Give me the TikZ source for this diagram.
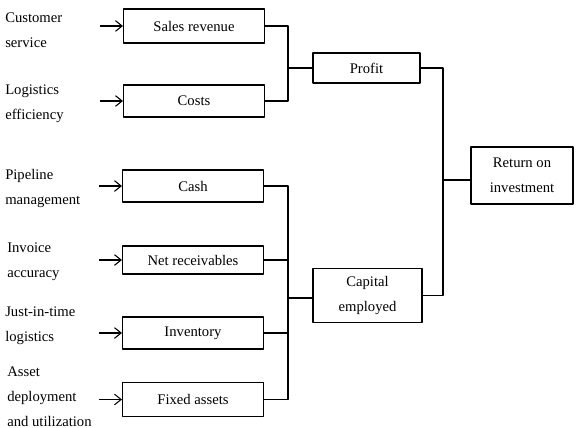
\documentclass[tikz,border=0pt]{standalone}
\usepackage{fontspec}
\setmainfont{Liberation Serif}
\usetikzlibrary{arrows.meta,calc,positioning}
\tikzset{
  box/.style={draw,line width=0.8pt,minimum width=105.75pt,minimum height=24pt,inner sep=0pt,align=center},
  drv/.style={anchor=west,align=left,inner sep=0pt},
  conn/.style={line width=0.8pt},
  feed/.style={line width=0.8pt,-{Straight Barb[length=5pt,width=8pt]}}
}

\begin{document}
\begin{tikzpicture}[x=0.75pt,y=-0.75pt,line join=round,font=\fontsize{11}{18.75}\selectfont]
\useasboundingbox (0,0) rectangle (578,428);
% --- profit side
\node[box,minimum height=25.5pt] (sr) at (194,26) {Sales revenue};
\node[box] (costs) at (194,101) {Costs};
\node[box,minimum width=80.25pt,minimum height=22.5pt] (profit) at (366.5,68) {Profit};
% --- capital side
\node[box] (cash) at (193,186) {Cash};
\node[box,minimum height=21pt] (nr) at (193,260) {Net receivables};
\node[box] (inv) at (193,333) {Inventory};
\node[box,minimum height=26pt] (fa) at (193,399.5) {Fixed assets};
\node[box,minimum width=81.75pt,minimum height=40pt] (cap) at (367.5,295.5) {Capital\\employed};
% --- result
\node[box,minimum width=76.5pt,minimum height=42.75pt] (roi) at (522,175.5) {Return on\\investment};
% drivers
\node[drv] (d1) at (5,30) {Customer\\service};
\node[drv] (d2) at (5,104) {Logistics\\efficiency};
\node[drv] (d3) at (5,188) {Pipeline\\management};
\node[drv] (d4) at (7,262) {Invoice\\accuracy};
\node[drv] (d5) at (5,326) {Just-in-time\\logistics};
\node[drv] (d6) at (7,397) {Asset\\deployment\\and utilization};
\foreach \b in {sr,costs,cash,nr,inv,fa}
  \draw[feed] ([xshift=-17.25pt]\b.west) -- (\b.west);
% brackets
\coordinate (j1) at (288,68);
\coordinate (j2) at (288,298);
\coordinate (j3) at (443,180);
\draw[conn] (sr.east) -| (j1) |- (costs.east);
\draw[conn] (j1) -- (profit.west);
\draw[conn] (cash.east) -| (j2) |- (fa.east);
\draw[conn] (nr.east) -- (nr.east -| j2);
\draw[conn] (inv.east) -- (inv.east -| j2);
\draw[conn] (j2) -- (j2 -| cap.west);
\draw[conn] (profit.east) -| (j3) |- (cap.east);
\draw[conn] (j3) -- (j3 -| roi.west);
\end{tikzpicture}
\end{document}
